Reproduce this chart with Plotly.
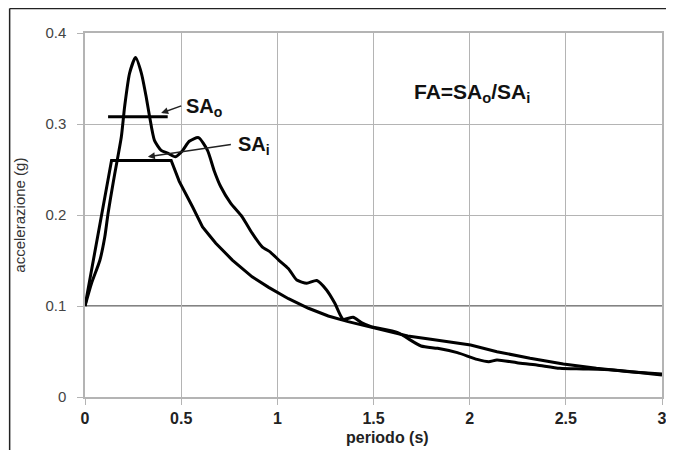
import plotly.graph_objects as go

# Output spectrum (SAo)
sao_T = [0, 0.034, 0.077, 0.103, 0.12, 0.146, 0.163, 0.189, 0.206, 0.232, 0.263, 0.293, 0.318,
         0.336, 0.361, 0.396, 0.43, 0.47, 0.508, 0.542, 0.59, 0.637, 0.671, 0.706, 0.757, 0.817,
         0.869, 0.921, 0.965, 1.007, 1.058, 1.101, 1.153, 1.205, 1.256, 1.299, 1.342, 1.394,
         1.437, 1.488, 1.626, 1.747, 1.833, 1.936, 2.039, 2.099, 2.142, 2.246, 2.349, 2.469,
         2.59, 2.745, 3.0]
sao_A = [0.10, 0.125, 0.15, 0.176, 0.202, 0.235, 0.255, 0.286, 0.319, 0.356, 0.373, 0.356, 0.33,
         0.308, 0.282, 0.271, 0.268, 0.264, 0.271, 0.281, 0.285, 0.271, 0.249, 0.231, 0.213, 0.198,
         0.18, 0.165, 0.159, 0.1505, 0.141, 0.1286, 0.125, 0.128, 0.1176, 0.103, 0.0854, 0.0876,
         0.0817, 0.0773, 0.0707, 0.056, 0.0535, 0.0487, 0.0413, 0.0388, 0.0407, 0.0377, 0.0352,
         0.0315, 0.0308, 0.0297, 0.0242]

# Input / reference spectrum (SAi)
sai_T = [0, 0.138, 0.448, 0.49, 0.559, 0.611, 0.645, 0.68, 0.766, 0.869, 0.955, 1.058, 1.162,
         1.265, 1.368, 1.471, 1.575, 1.678, 1.798, 2.005, 2.142, 2.314, 2.487, 2.659, 2.831, 3.0]
sai_A = [0.10, 0.26, 0.26, 0.237, 0.209, 0.187, 0.178, 0.169, 0.1505, 0.132, 0.1205, 0.108,
         0.0975, 0.089, 0.0828, 0.0773, 0.0718, 0.067, 0.0634, 0.0571, 0.0498, 0.0425, 0.0363,
         0.0315, 0.0278, 0.0253]

# Mean SAo level over the period interval
sao_mean_T = [0.12, 0.43]
sao_mean_A = [0.308, 0.308]

x_ticks = [0, 0.5, 1, 1.5, 2, 2.5, 3]
x_ticktext = ["0", "0.5", "1", "1.5", "2", "2.5", "3"]
y_ticks = [0, 0.1, 0.2, 0.3, 0.4]
y_ticktext = ["0", "0.1", "0.2", "0.3", "0.4"]

FONT = "Arial, Liberation Sans, sans-serif"

fig = go.Figure()
line_style = dict(color="black", width=3)
fig.add_trace(go.Scatter(x=sao_T, y=sao_A, mode="lines", line=dict(color="black", width=3,
                                                                       shape="spline", smoothing=0.6),
                         showlegend=False, hoverinfo="skip"))
fig.add_trace(go.Scatter(x=sai_T, y=sai_A, mode="lines", line=line_style,
                         showlegend=False, hoverinfo="skip"))
fig.add_trace(go.Scatter(x=sao_mean_T, y=sao_mean_A, mode="lines", line=line_style,
                         showlegend=False, hoverinfo="skip"))

grid = "#b4b4b4"
fig.update_xaxes(range=[0, 3], tickvals=x_ticks, ticktext=x_ticktext, showgrid=True,
                 gridcolor=grid, gridwidth=1.2, showline=True, linecolor=grid, linewidth=1.5,
                 mirror=True, ticks="outside", ticklen=6, tickcolor=grid, zeroline=False,
                 tickfont=dict(family=FONT, size=16, color="#222", weight="bold"))
fig.update_yaxes(range=[0, 0.4], tickvals=y_ticks, ticktext=y_ticktext, showgrid=True,
                 gridcolor=grid, gridwidth=1.2, showline=True, linecolor=grid, linewidth=1.5,
                 mirror=True, ticks="outside", ticklen=6, tickcolor=grid, zeroline=False,
                 ticklabelstandoff=8,
                 tickfont=dict(family=FONT, size=15, color="#444"))

shapes = [
    # darker horizontal reference line at 0.1
    dict(type="line", xref="x", yref="y", x0=0, x1=3, y0=0.1, y1=0.1,
         line=dict(color="#5a5a5a", width=1.6), layer="below"),
    # outer frame (left and top)
    dict(type="line", xref="paper", yref="paper", x0=-0.1306, x1=-0.1306, y0=-0.2, y1=1.067,
         line=dict(color="#222", width=1.5)),
    dict(type="line", xref="paper", yref="paper", x0=-0.1306, x1=1.02, y0=1.067, y1=1.067,
         line=dict(color="#222", width=1.5)),
]

annotations = [
    dict(x=0.396, y=0.312, ax=0.516, ay=0.321, xref="x", yref="y", axref="x", ayref="y",
         showarrow=True, arrowhead=2, arrowsize=1, arrowwidth=1.4, arrowcolor="#222", text=" "),
    dict(x=0.327, y=0.264, ax=0.774, ay=0.278, xref="x", yref="y", axref="x", ayref="y",
         showarrow=True, arrowhead=2, arrowsize=1, arrowwidth=1.4, arrowcolor="#222", text=" "),
    dict(x=0.516, y=0.318, xref="x", yref="y", xanchor="left", yanchor="middle", showarrow=False,
         text="<b>SA<sub>o</sub></b>", font=dict(family=FONT, size=20, color="#111")),
    dict(x=0.785, y=0.276, xref="x", yref="y", xanchor="left", yanchor="middle", showarrow=False,
         text="<b>SA<sub>i</sub></b>", font=dict(family=FONT, size=20, color="#111")),
    dict(x=1.70, y=0.334, xref="x", yref="y", xanchor="left", yanchor="middle", showarrow=False,
         text="<b>FA=SA<sub>o</sub>/SA<sub>i</sub></b>", font=dict(family=FONT, size=21, color="#111")),
    dict(x=0.524, y=-0.111, xref="paper", yref="paper", xanchor="center", yanchor="middle",
         showarrow=False, text="<b>periodo (s)</b>", font=dict(family=FONT, size=16, color="#222")),
    dict(x=-0.115, y=0.5, xref="paper", yref="paper", xanchor="center", yanchor="middle",
         showarrow=False, textangle=-90, text="accelerazione (g)",
         font=dict(family=FONT, size=15, color="#333")),
]

# The page body adds an 8px margin, so the figure is sized to fill the remaining window.
fig.update_layout(width=666, height=442, margin=dict(l=77, r=7, t=25, b=53),
                  paper_bgcolor="white", plot_bgcolor="white", shapes=shapes,
                  annotations=annotations, showlegend=False)

fig.write_html("out.html")
